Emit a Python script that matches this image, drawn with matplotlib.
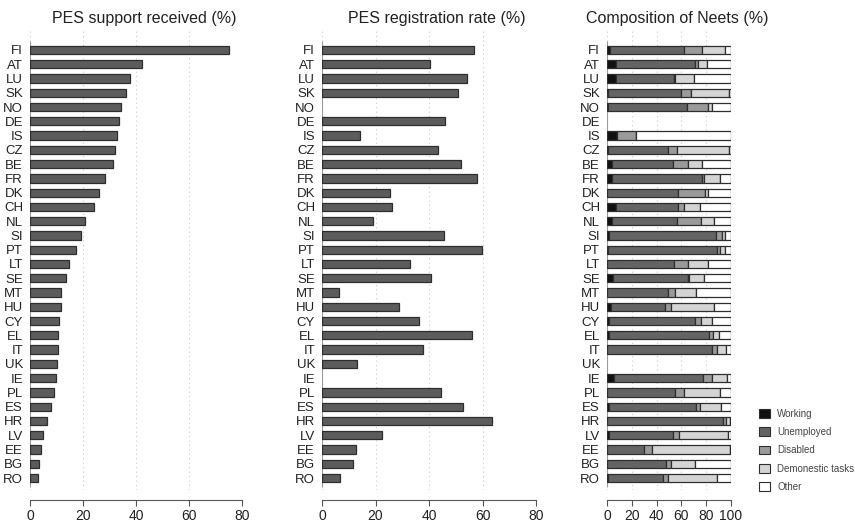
import matplotlib.pyplot as plt
import numpy as np
from matplotlib.patches import Patch

plt.rcParams['font.family'] = ['Liberation Sans', 'DejaVu Sans']

countries = ['FI', 'AT', 'LU', 'SK', 'NO', 'DE', 'IS', 'CZ', 'BE', 'FR', 'DK',
             'CH', 'NL', 'SI', 'PT', 'LT', 'SE', 'MT', 'HU', 'CY', 'EL', 'IT',
             'UK', 'IE', 'PL', 'ES', 'HR', 'LV', 'EE', 'BG', 'RO']

# PES support received (%)
support = [75.1, 42.2, 37.7, 36.2, 34.4, 33.5, 33.0, 32.2, 31.2, 28.3, 26.1,
           24.0, 20.9, 19.3, 17.5, 14.8, 13.4, 11.7, 11.7, 11.1, 10.7, 10.6,
           10.3, 9.8, 9.0, 8.0, 6.5, 4.9, 4.3, 3.3, 3.0]

# PES registration rate (%), NaN = no data
registration = [56.8, 40.5, 54.3, 51.0, np.nan, 46.0, 14.1, 43.5, 52.1, 58.0,
                25.6, 26.1, 19.1, 45.5, 59.8, 32.8, 40.6, 6.2, 28.8, 36.4,
                56.0, 37.6, 13.1, np.nan, 44.3, 52.8, 63.6, 22.6, 12.6, 11.6,
                6.7]

# Composition of Neets (%)
nan = np.nan
working = [2.4, 7.3, 7.0, 0.5, 0.5, nan, 7.8, 0.5, 3.8, 4.0, 0.3, 7.3, 4.0,
           1.6, 1.0, 0.3, 4.6, 0.3, 3.2, 1.3, 1.5, 0.3, nan, 5.6, 0.3, 1.3,
           0.3, 1.3, 0.3, 0.3, 1.0]
unemployed = [59.6, 63.4, 46.8, 59.2, 64.3, nan, 0.0, 48.7, 49.2, 72.3, 56.9,
              49.7, 52.5, 86.4, 87.4, 53.7, 61.0, 48.7, 43.8, 69.7, 80.5,
              84.4, nan, 72.1, 54.7, 70.5, 93.5, 51.7, 29.7, 47.3, 44.4]
disabled = [15.0, 2.7, 0.8, 7.8, 16.9, nan, 15.4, 7.5, 12.6, 1.8, 21.5, 5.4,
            19.0, 4.5, 2.6, 11.0, 0.7, 5.8, 5.0, 4.5, 3.8, 3.7, nan, 6.7,
            7.0, 3.2, 2.2, 5.3, 6.0, 3.7, 3.8]
domestic = [18.0, 7.0, 15.8, 31.2, 3.3, nan, 0.0, 41.7, 11.3, 13.0, 2.5,
            12.6, 11.1, 3.0, 4.0, 16.7, 12.2, 16.7, 34.0, 9.5, 4.5, 7.6, nan,
            12.1, 29.1, 16.7, 3.0, 39.5, 63.2, 19.7, 39.8]
other = [5.0, 19.6, 29.6, 1.3, 15.0, nan, 76.8, 1.6, 23.1, 8.9, 18.8, 25.0,
         13.4, 4.5, 5.0, 18.3, 21.5, 28.5, 14.0, 15.0, 9.7, 4.0, nan, 3.5,
         8.9, 8.3, 1.0, 2.2, 0.8, 29.0, 11.0]

parts = [working, unemployed, disabled, domestic, other]
part_names = ['Working', 'Unemployed', 'Disabled', 'Demonestic tasks', 'Other']
part_colors = ['#111111', '#646464', '#9a9a9a', '#d4d4d4', '#ffffff']

W, H = 855, 523
fig = plt.figure(figsize=(W / 100, H / 100), dpi=100)

y = np.arange(len(countries))
bar_h = 0.58
edge = '#2e2e2e'
text_col = '#222222'


def make_axes(left_px, right_px):
    ax = fig.add_axes([left_px / W, 1 - 490 / H,
                       (right_px - left_px) / W, (490 - 30) / H])
    for s in ['top', 'right', 'left']:
        ax.spines[s].set_visible(False)
    ax.spines['bottom'].set_position(('outward', 7))
    ax.spines['bottom'].set_color('#555555')
    ax.set_ylim(len(countries) - 1 + 0.84, -1.4)
    ax.set_yticks(y)
    ax.set_yticklabels(countries, fontsize=9.5, color=text_col)
    ax.tick_params(axis='y', length=0, pad=5)
    ax.tick_params(axis='x', length=4, color='#555555', labelsize=10,
                   labelcolor=text_col, pad=3)
    ax.grid(axis='x', linestyle=(0, (1, 3)), color='#c8c8c8', linewidth=0.8)
    ax.set_axisbelow(True)
    ax.vlines(0, -0.6, len(countries) - 0.4, color='#9a9a9a', linewidth=0.8,
              zorder=1)
    return ax


# panel 1
ax1 = make_axes(30, 242)
ax1.barh(y, support, height=bar_h, color='#5c5c5c', edgecolor=edge,
         linewidth=0.9, zorder=2)
ax1.set_xlim(0, 80)
ax1.set_xticks([0, 20, 40, 60, 80])
ax1.spines['bottom'].set_bounds(0, 80)

# panel 2
ax2 = make_axes(322, 536)
ax2.barh(y, registration, height=bar_h, color='#5c5c5c', edgecolor=edge,
         linewidth=0.9, zorder=2)
ax2.set_xlim(0, 80)
ax2.set_xticks([0, 20, 40, 60, 80])
ax2.spines['bottom'].set_bounds(0, 80)

# panel 3
ax3 = make_axes(607, 731)
left = np.zeros(len(countries))
for vals, col in zip(parts, part_colors):
    vals = np.array(vals)
    ax3.barh(y, vals, left=left, height=bar_h, color=col, edgecolor=edge,
             linewidth=0.9, zorder=2)
    left = left + np.nan_to_num(vals)
ax3.set_xlim(0, 100)
ax3.set_xticks([0, 20, 40, 60, 80, 100])
ax3.spines['bottom'].set_bounds(0, 100)

# titles
fig.text(144 / W, 1 - 18 / H, 'PES support received (%)', ha='center',
         va='center', fontsize=11.5, color=text_col)
fig.text(437 / W, 1 - 18 / H, 'PES registration rate (%)', ha='center',
         va='center', fontsize=11.5, color=text_col)
fig.text(677 / W, 1 - 18 / H, 'Composition of Neets (%)', ha='center',
         va='center', fontsize=11.5, color=text_col)

# legend
handles = [Patch(facecolor=c, edgecolor=edge, linewidth=0.8)
           for c in part_colors]
fig.legend(handles, part_names, loc='upper left',
           bbox_to_anchor=(750 / W, 1 - 400 / H), frameon=False,
           fontsize=7, handlelength=1.2, handleheight=1.0,
           labelspacing=0.85, handletextpad=0.7, labelcolor='#444444')

fig.savefig('out.png', dpi=100)
